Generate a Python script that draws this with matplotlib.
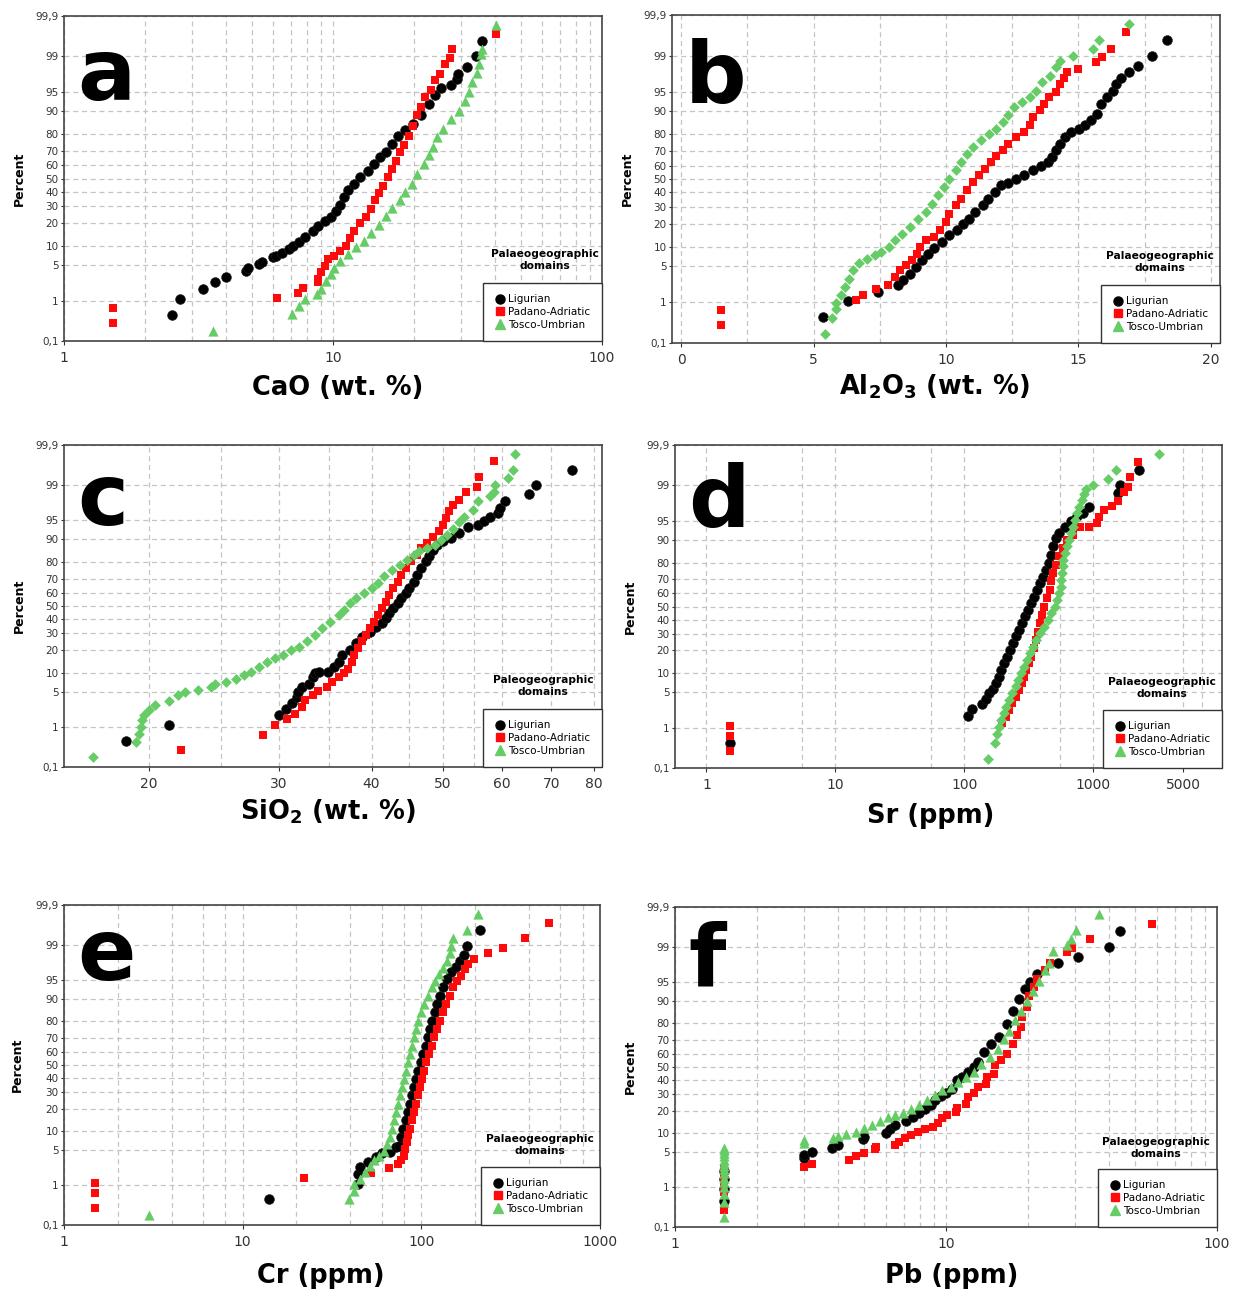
import matplotlib
matplotlib.use("Agg")
import matplotlib.pyplot as plt
import numpy as np
from statistics import NormalDist
from matplotlib.lines import Line2D
from matplotlib.ticker import FixedLocator, NullFormatter

# ---- data (value, cumulative percent) ----
# a: CaO
a_lig_x = [2.51, 2.69, 3.29, 3.64, 4.0, 4.73, 4.84, 5.33, 5.45, 6.0, 6.13, 6.46, 6.87, 7.1, 7.5, 7.9, 8.42, 8.8, 9.3, 9.8,
           10.3, 10.6, 11.0, 11.4, 12.0, 12.6, 13.5, 14.2, 14.9, 15.7, 16.5, 17.4, 18.6, 19.9, 21.3, 22.8, 24.0, 25.2,
           27.4, 28.9, 29.2, 31.5, 34.1, 35.8]
a_lig_p = [0.47, 1.1, 1.75, 2.4, 3.1, 3.9, 4.5, 5.2, 5.7, 6.7, 7.1, 7.8, 9.0, 10, 11.2, 13.5, 16, 18.4, 21, 23.3,
           27, 31, 36, 41, 46, 51, 56, 61, 66, 69, 74.5, 79, 82, 85, 88.5, 92.2, 94.3, 95.7,
           96.3, 97.1, 97.7, 98.3, 99.0, 99.55]
a_pad_x = [1.52, 1.52, 6.17, 7.4, 7.75, 8.77, 8.8, 9.0, 9.3, 9.6, 10.1, 10.6, 11.2, 11.6, 12.0, 12.6, 13.3, 13.9, 14.3,
           14.8, 15.4, 16.0, 16.5, 17.1, 17.7, 18.3, 19.2, 19.9, 20.6, 21.3, 22.0, 23.1, 24.0, 24.9, 26.0, 27.2, 27.7, 40.5]
a_pad_p = [0.68, 0.30, 1.14, 1.45, 1.9, 2.4, 2.85, 3.7, 4.8, 6.3, 7.1, 8.5, 10, 13, 16, 20, 23, 28, 34,
           39, 44.5, 51, 57, 63, 69, 74, 79, 84, 88.5, 91.3, 94, 95.3, 96.9, 97.7, 98.5, 98.9, 99.3, 99.7]
a_tos_x = [3.59, 7.06, 7.5, 7.9, 8.7, 9.05, 9.45, 9.8, 10.1, 10.6, 11.4, 12.2, 13.0, 13.9, 14.8, 15.7, 16.5, 17.7, 18.6,
           19.6, 20.6, 21.7, 22.8, 23.6, 24.4, 25.7, 27.4, 29.3, 30.9, 31.9, 33.0, 34.2, 35.0, 35.4, 35.8, 40.5]
a_tos_p = [0.19, 0.49, 0.77, 1.08, 1.38, 1.8, 2.6, 3.4, 4.5, 5.8, 7.5, 9.5, 11.8, 15.2, 19, 24, 29, 34, 39.6,
           46, 53.4, 61, 67, 72.3, 78.3, 82.7, 87.2, 90.2, 93, 95, 96.7, 97.8, 98.5, 99.1, 99.3, 99.82]

# b: Al2O3
b_lig_x = [5.36, 6.28, 7.42, 8.18, 8.36, 8.65, 8.87, 9.1, 9.32, 9.54, 9.84, 10.13, 10.43, 10.65, 10.87, 11.1, 11.4, 11.6,
           11.84, 12.06, 12.36, 12.66, 12.95, 13.3, 13.6, 13.84, 14.0, 14.14, 14.29, 14.5, 14.73, 15.03, 15.25, 15.47,
           15.7, 15.85, 16.07, 16.3, 16.44, 16.6, 16.93, 17.26, 17.8, 18.34]
b_lig_p = [0.47, 1.07, 1.66, 2.3, 2.9, 3.7, 4.9, 6.3, 8, 9.8, 11.7, 14.5, 17, 19.7, 22.7, 26.7, 31, 35.5,
           40.3, 45.2, 47.2, 50, 52.8, 56.5, 59.7, 62.5, 66, 70.5, 74.7, 78.5, 81.2, 82.8, 84.4, 86.5,
           89, 92.2, 93.8, 95.2, 96.4, 97.2, 97.8, 98.35, 99.0, 99.57]
b_pad_x = [1.5, 1.5, 6.6, 6.88, 7.34, 7.8, 8.06, 8.28, 8.5, 8.72, 8.92, 9.02, 9.24, 9.54, 9.76, 9.99, 10.13, 10.36,
           10.58, 10.8, 11.02, 11.25, 11.47, 11.7, 11.9, 12.14, 12.36, 12.66, 12.95, 13.17, 13.3, 13.55, 13.7, 13.9,
           14.14, 14.29, 14.44, 14.58, 14.99, 15.65, 15.88, 16.22, 16.81]
b_pad_p = [0.67, 0.29, 1.12, 1.45, 1.9, 2.3, 3.3, 4.3, 5.2, 6.3, 8, 10, 12.5, 13.8, 16.7, 21, 25.7, 31,
           35.5, 41.6, 47.6, 52.8, 57.7, 62.5, 66.6, 70.5, 74.7, 78.5, 81.2, 84.4, 87.9, 90.2, 92.2, 93.8,
           94.9, 96.4, 97.2, 97.8, 98.1, 98.6, 98.9, 99.3, 99.72]
b_tos_x = [5.42, 5.71, 5.83, 5.83, 6.05, 6.2, 6.32, 6.5, 6.72, 7.0, 7.31, 7.54, 7.83, 8.06, 8.35, 8.65, 8.95, 9.24,
           9.47, 9.69, 9.91, 10.13, 10.36, 10.58, 10.8, 11.02, 11.32, 11.62, 11.9, 12.14, 12.36, 12.58, 12.88, 13.17,
           13.4, 13.62, 13.92, 14.14, 14.32, 14.81, 15.55, 15.77, 16.91]
b_tos_p = [0.18, 0.43, 0.70, 0.98, 1.43, 2.1, 3.0, 4.3, 5.6, 6.7, 7.5, 8.5, 10, 12.5, 15.2, 18.4, 22.7, 26.7,
           32, 38, 44, 50, 56.5, 62.5, 68.4, 72.6, 76.7, 80.3, 82.8, 85.8, 88.5, 91.2, 92.6, 93.8,
           95.2, 96.6, 97.4, 98.25, 98.7, 98.96, 99.29, 99.56, 99.82]

# c: SiO2
c_lig_x = [18.6, 21.3, 30.0, 30.6, 31.2, 31.7, 31.8, 32.2, 32.9, 33.3, 33.5, 34.0, 34.9, 35.6, 36.1, 36.5, 37.4, 38.1,
           38.8, 39.8, 40.5, 41.3, 41.8, 42.3, 42.8, 43.4, 43.9, 44.5, 45.0, 45.6, 46.1, 46.7, 47.4, 47.8, 48.4, 49.0,
           49.9, 51.2, 52.5, 54.1, 55.7, 56.8, 57.9, 59.3, 59.7, 60.7, 65.3, 66.8, 74.6]
c_lig_p = [0.47, 1.1, 1.8, 2.45, 3.1, 4.1, 5.0, 6.0, 6.8, 8.7, 10, 10.3, 10.3, 12.2, 14.3, 17.4, 20, 23.6,
           27.8, 31.2, 34, 37.4, 40.8, 44.5, 48.4, 52, 56, 59.8, 63.4, 68, 72.6, 76.7, 80.5, 83, 86, 88,
           89.3, 90.5, 92, 93.5, 94.1, 94.8, 95.6, 96.3, 97, 97.8, 98.4, 99.0, 99.56]
c_pad_x = [22.1, 28.5, 29.6, 30.7, 31.5, 32.2, 32.5, 33.3, 33.9, 34.8, 35.4, 36.1, 36.7, 37.2, 37.6, 37.9, 38.4, 38.8,
           39.3, 39.8, 40.3, 40.8, 41.3, 41.8, 42.3, 42.8, 43.4, 43.9, 44.5, 45.3, 46.1, 46.7, 47.5, 48.4, 49.3, 49.9,
           50.4, 50.9, 51.5, 52.5, 53.7, 55.5, 55.9, 58.5]
c_pad_p = [0.29, 0.68, 1.1, 1.5, 1.9, 2.65, 3.5, 4.4, 5.1, 6.1, 7.3, 8.5, 9.8, 11.5, 14.3, 17.4, 20.8, 24.8,
           29, 33.4, 38, 43, 48.4, 53.4, 58.5, 63.4, 68, 72.6, 76.7, 80.5, 83.8, 86.7, 88.7, 90.8, 92.4, 94.1,
           95.5, 96.6, 97.4, 97.9, 98.6, 98.9, 99.33, 99.73]
c_tos_x = [16.8, 19.2, 19.4, 19.5, 19.6, 19.7, 20.0, 20.4, 21.3, 21.9, 22.4, 23.3, 24.3, 24.6, 25.4, 26.2, 26.9, 27.5,
           28.2, 28.9, 29.6, 30.4, 31.1, 31.9, 32.7, 33.5, 34.3, 35.2, 36.1, 36.7, 37.4, 38.1, 39.1, 40.0, 40.8, 41.6,
           42.6, 43.7, 44.7, 45.6, 46.4, 47.5, 48.7, 49.6, 50.6, 51.5, 52.5, 53.4, 54.8, 55.8, 57.9, 58.5, 58.8, 61.2,
           62.2, 62.5]
c_tos_p = [0.19, 0.44, 0.71, 1.0, 1.4, 1.8, 2.3, 2.9, 3.4, 4.4, 5.0, 5.4, 6.1, 6.8, 7.3, 8.2, 9.3, 10.4,
           12.2, 14.2, 15.8, 17.4, 20, 21.8, 24.8, 29, 33.4, 38, 43, 47, 52, 56, 59.8, 63.4, 67, 71.5,
           75.8, 78.5, 81.3, 83.8, 85.3, 86.7, 88.1, 89.8, 91.5, 93, 94.6, 95.7, 96.8, 97.8, 98.25, 98.6, 99.0, 99.3,
           99.56, 99.82]

# d: Sr
d_lig_x = [1.52, 107.7, 114.7, 136.7, 146.6, 155, 166, 176, 185, 194, 205, 215, 228, 241, 253, 268, 281, 297, 312,
           330, 347, 367, 385, 408, 431, 453, 475, 492, 517, 547, 608, 675, 750, 833, 925, 1563, 1620, 2270]
d_lig_p = [0.46, 1.8, 2.45, 3.1, 3.9, 4.8, 5.8, 7.2, 9, 11.3, 13.8, 16.9, 20.3, 24.2, 28.3, 32.7, 37.5, 42.5, 47.5,
           52.5, 57.5, 62.5, 67.3, 71.7, 75.8, 79.7, 83.9, 87.5, 90.5, 92, 93.7, 95, 95.8, 96.3, 97.1, 98.5, 99.0, 99.56]
d_pad_x = [1.52, 1.52, 1.52, 198, 212, 223, 236, 253, 268, 281, 291, 302, 317, 330, 347, 359, 372, 385, 399, 413,
           437, 459, 475, 492, 517, 547, 587, 629, 699, 788, 925, 1064, 1117, 1224, 1408, 1563, 1739, 1864, 1930, 2221]
d_pad_p = [1.13, 0.67, 0.29, 1.26, 1.75, 2.4, 3.2, 4.2, 5.5, 7.1, 9, 11.3, 13.8, 16.9, 21.2, 26, 31.6, 37.5, 43.6, 50,
           56.3, 62.5, 68.4, 73.8, 78.8, 83.1, 86.8, 90, 91.5, 93.6, 93.7, 94.4, 95.6, 96.8, 97.3, 97.8, 98.55, 98.9,
           99.33, 99.72]
d_tos_x = [153, 172, 178, 185, 194, 205, 212, 223, 236, 250, 262, 276, 291, 308, 324, 340, 359, 385, 413, 443, 475,
           503, 528, 547, 559, 567, 575, 579, 587, 608, 629, 652, 675, 699, 724, 750, 777, 822, 851, 875, 1006, 1313,
           1511, 3266]
d_tos_p = [0.18, 0.44, 0.73, 1.07, 1.5, 2.05, 2.75, 3.7, 4.8, 6.3, 7.9, 10, 12.5, 15.3, 18.5, 22, 26, 30.5, 35, 40, 45,
           50, 55, 60, 64.8, 69.5, 73.8, 77.9, 81.5, 84.6, 87.5, 90, 92, 93.7, 95.2, 96.3, 97.1, 97.9, 98.4, 98.8, 99.0,
           99.28, 99.56, 99.82]

# e: Cr
e_lig_x = [14.0, 44.0, 44.2, 45.3, 50.5, 56, 60.4, 66.9, 72.2, 75.2, 76.7, 79.1, 82, 84.1, 86.3, 88.5, 90.8, 93.1, 96,
           99, 102, 106, 108.5, 112.4, 115, 119, 123, 128, 133, 139, 147, 157, 165, 174, 179, 214]
e_lig_p = [0.47, 1.05, 1.8, 2.4, 3.0, 3.75, 4.45, 4.6, 5.6, 6.0, 8.2, 10.9, 14.2, 18.1, 22.7, 27.8, 33.4, 39.4, 45.6,
           52, 58.3, 64.5, 70.3, 75.6, 80.3, 84.5, 88, 91, 93.3, 95.1, 96.3, 97.1, 97.8, 98.3, 98.9, 99.55]
e_pad_x = [1.5, 1.5, 1.5, 22.0, 52.4, 65.9, 73.6, 76.7, 80, 81.2, 82.8, 84.1, 86.3, 88.5, 90.8, 93.1, 95.5, 98, 100.5,
           103, 106, 110, 114, 118, 123, 128, 133, 138, 144, 151, 159, 167, 176, 182, 198, 237, 288, 382, 518]
e_pad_p = [1.13, 0.68, 0.29, 1.47, 1.88, 2.35, 2.75, 3.3, 4.0, 5.3, 6.8, 8.7, 10.9, 14.2, 18.1, 22.7, 27.8, 33.4, 39.4,
           45.6, 52, 58.3, 64.5, 70.3, 75.6, 80.3, 84.5, 88, 91, 93.3, 94.8, 95.7, 96.8, 97.5, 98.0, 98.5, 98.8, 99.3,
           99.7]
e_tos_x = [2.99, 39.2, 41.8, 42.2, 45.3, 48.5, 51.8, 54.5, 58.2, 62, 64.5, 66.9, 68.6, 70.3, 72.2, 74, 76, 78, 80, 82,
           84.1, 86.3, 88.5, 90.8, 93.1, 95.5, 99.5, 104, 108.5, 114, 120, 126, 133, 139, 144, 147, 151, 179, 207]
e_tos_p = [0.19, 0.47, 0.75, 1.05, 1.4, 1.9, 2.6, 3.3, 4.0, 4.9, 6.4, 8.2, 10.9, 14.2, 18.1, 22.7, 27.8, 33.4, 39.4,
           45.6, 52, 58.3, 64.5, 70.3, 75.6, 80.3, 84.5, 88, 91, 93.3, 94.8, 96, 97, 97.8, 98.5, 98.9, 99.28, 99.55,
           99.82]

# f: Pb
f_lig_x = [1.51, 1.51, 1.51, 1.51, 2.98, 2.98, 3.2, 3.78, 3.98, 4.93, 5.0, 6.0, 6.2, 6.5, 7.14, 7.56, 7.94, 8.35, 8.8,
           9.08, 9.55, 10.0, 10.5, 11.0, 11.5, 12.05, 12.7, 13.1, 13.8, 14.7, 15.7, 16.8, 17.7, 18.6, 19.5, 20.5, 21.6,
           25.8, 30.6, 40.0, 43.8]
f_lig_p = [0.47, 0.9, 1.5, 2.2, 3.9, 4.5, 5.0, 5.8, 6.6, 8.1, 8.7, 10, 11.4, 13.1, 15, 16.8, 18.8, 20.6, 23,
           26, 28.6, 30.8, 33.2, 39.9, 42.4, 46.2, 50, 53.8, 61.4, 67.3, 72.2, 79.7, 86.2, 90.5, 93.4, 94.9, 96.4,
           97.8, 98.3, 99.0, 99.57]
f_pad_x = [1.51, 1.51, 1.51, 1.51, 1.51, 3.0, 3.2, 4.4, 4.66, 4.98, 5.47, 5.5, 6.5, 6.73, 7.07, 7.43, 7.89, 8.35, 8.93,
           9.33, 9.7, 10.1, 10.9, 11.0, 11.9, 12.05, 12.7, 13.1, 14.0, 14.2, 15.0, 15.2, 16.0, 16.8, 17.7, 18.3, 18.9,
           19.0, 19.9, 20.2, 21.2, 21.6, 23.1, 24.1, 27.9, 29.2, 33.9, 57.7]
f_pad_p = [0.29, 0.8, 1.2, 1.7, 2.5, 2.7, 3.1, 3.6, 4.2, 4.8, 5.6, 6.2, 6.6, 7.5, 8.4, 9.5, 10.6, 11.4, 12.5,
           14, 16.1, 17.6, 19.4, 21.2, 24, 28, 30.5, 35, 37.4, 42.4, 45, 51.3, 55, 60, 67.3, 72.9, 77.9,
           83.2, 87.5, 91.6, 93.8, 95.5, 96.9, 97.8, 98.65, 98.95, 99.32, 99.72]
f_tos_x = [1.51, 1.51, 1.51, 1.51, 1.51, 1.51, 1.51, 1.51, 1.51, 1.51, 1.51, 1.51, 1.51, 1.51, 1.51, 3.0, 3.0, 3.82,
           4.0, 4.29, 4.66, 4.98, 5.33, 5.69, 6.09, 6.5, 6.95, 7.43, 7.94, 8.49, 9.08, 9.7, 10.4, 11.1, 11.9, 12.7,
           13.5, 14.5, 15.5, 16.3, 17.1, 18.0, 18.9, 19.9, 20.9, 22.0, 23.1, 23.9, 24.9, 28.0, 28.9, 30.1, 36.8]
f_tos_p = [0.19, 0.45, 0.7, 1.0, 1.3, 1.6, 2.0, 2.4, 2.8, 3.2, 3.7, 4.2, 4.8, 5.4, 6.0, 7.1, 8.0, 8.4,
           9.1, 9.8, 10.6, 11.8, 13.1, 15, 16.5, 17.6, 18.8, 20.6, 23, 26, 29.3, 32.7, 35, 38.6, 42.4, 46.2,
           52.6, 57.5, 63.8, 70.7, 75.9, 81.6, 86.2, 90, 92.9, 95.2, 96.9, 97.8, 98.75, 99.1, 99.32, 99.59, 99.84]

groups = ["Ligurian", "Padano-Adriatic", "Tosco-Umbrian"]
pct_ticks = [0.1, 1, 5, 10, 20, 30, 40, 50, 60, 70, 80, 90, 95, 99, 99.9]
pct_labels = ["0,1", "1", "5", "10", "20", "30", "40", "50", "60", "70", "80", "90", "95", "99", "99,9"]

# ---- probability (normal quantile) scale ----
nd = NormalDist()
_inv_cdf = np.vectorize(nd.inv_cdf, otypes=[float])
_cdf = np.vectorize(nd.cdf, otypes=[float])


def prob_fwd(p):
    p = np.clip(np.asarray(p, dtype=float), 1e-6, 100 - 1e-6)
    return _inv_cdf(p / 100.0)


def prob_inv(z):
    return _cdf(np.asarray(z, dtype=float)) * 100.0


W, H = 1236, 1289
fig = plt.figure(figsize=(W / 100, H / 100), dpi=100)

BLACK = "#000000"
RED = "#ff0a0a"
GREEN = "#66cc66"
GRID = "#c4c4c4"


def add_axes(l, t, r, b):
    return fig.add_axes([l / W, 1 - b / H, (r - l) / W, (b - t) / H])


panels = [
    dict(box=(64, 16, 602, 341), letter="a", let_y=0.742, xlab="CaO (wt. %)", xlab_xy=(338, 395), ylab_x=19,
         data=(a_lig_x, a_lig_p, a_pad_x, a_pad_p, a_tos_x, a_tos_p), tos_m="^", log=True, xlim=(1, 100),
         major=[1, 10, 100], minor=[2, 3, 4, 5, 6, 7, 8, 9, 20, 30, 40, 50, 60, 70, 80, 90],
         title="Palaeogeographic\ndomains", title_xy=(545, 260)),
    dict(box=(672, 15, 1220, 343), letter="b", let_y=0.732, xlab=r"Al$_\mathbf{2}$O$_\mathbf{3}$ (wt. %)",
         xlab_xy=(934, 395), ylab_x=627,
         data=(b_lig_x, b_lig_p, b_pad_x, b_pad_p, b_tos_x, b_tos_p), tos_m="D", log=False, xlim=(-0.35, 20.35),
         major=[0, 5, 10, 15, 20], minor=[2.5, 7.5, 12.5, 17.5],
         title="Palaeogeographic\ndomains", title_xy=(1160, 262)),
    dict(box=(64, 445, 602, 767), letter="c", let_y=0.75, xlab=r"SiO$_\mathbf{2}$ (wt. %)", xlab_xy=(328, 819),
         ylab_x=19,
         data=(c_lig_x, c_lig_p, c_pad_x, c_pad_p, c_tos_x, c_tos_p), tos_m="D", log=True, xlim=(15.35, 82),
         major=[20, 30, 40, 50, 60, 70, 80], minor=[25, 35, 45, 55],
         title="Paleogeographic\ndomains", title_xy=(543, 686)),
    dict(box=(675, 445, 1222, 768), letter="d", let_y=0.746, xlab="Sr (ppm)", xlab_xy=(931, 823), ylab_x=630,
         data=(d_lig_x, d_lig_p, d_pad_x, d_pad_p, d_tos_x, d_tos_p), tos_m="D", log=True, xlim=(0.57, 10000),
         major=[1, 10, 100, 1000, 5000], minor=[5.5, 55, 550, 7000],
         title="Palaeogeographic\ndomains", title_xy=(1162, 688)),
    dict(box=(64, 905, 600, 1225), letter="e", let_y=0.766, xlab="Cr (ppm)", xlab_xy=(321, 1283), ylab_x=17,
         data=(e_lig_x, e_lig_p, e_pad_x, e_pad_p, e_tos_x, e_tos_p), tos_m="^", log=True, xlim=(1, 1000),
         major=[1, 10, 100, 1000], minor=[2, 4, 6, 8, 20, 40, 60, 80, 200, 400, 600, 800],
         title="Palaeogeographic\ndomains", title_xy=(540, 1145)),
    dict(box=(675, 907, 1217, 1227), letter="f", let_y=0.756, xlab="Pb (ppm)", xlab_xy=(952, 1283), ylab_x=630,
         data=(f_lig_x, f_lig_p, f_pad_x, f_pad_p, f_tos_x, f_tos_p), tos_m="^", log=True, xlim=(1, 100),
         major=[1, 10, 100], minor=[2, 3, 4, 5, 6, 7, 8, 9, 20, 30, 40, 50, 60, 70, 80, 90],
         title="Palaeogeographic\ndomains", title_xy=(1156, 1148)),
]

for pn in panels:
    l, t, r, b = pn["box"]
    ax = add_axes(l, t, r, b)
    ax.set_yscale("function", functions=(prob_fwd, prob_inv))
    if pn["log"]:
        ax.set_xscale("log")
    ax.set_xlim(*pn["xlim"])
    ax.set_ylim(0.1, 99.9)

    lx, lp, px, pp, tx, tp = pn["data"]
    ax.scatter(lx, lp, s=50, marker="o", color=BLACK, edgecolors="#222222", linewidths=0.4, zorder=3)
    ax.scatter(px, pp, s=38, marker="s", color=RED, linewidths=0, zorder=3)
    if pn["tos_m"] == "D":
        ax.scatter(tx, tp, s=30, marker="D", color=GREEN, linewidths=0, zorder=3)
    else:
        ax.scatter(tx, tp, s=54, marker="^", color=GREEN, linewidths=0, zorder=3)

    ax.set_yticks(pct_ticks)
    ax.set_yticklabels(pct_labels)
    ax.yaxis.set_minor_locator(FixedLocator([]))
    ax.set_xticks(pn["major"])
    ax.set_xticklabels([str(v) for v in pn["major"]])
    ax.xaxis.set_minor_locator(FixedLocator(pn["minor"]))
    ax.xaxis.set_minor_formatter(NullFormatter())

    ax.set_axisbelow(True)
    ax.grid(True, axis="x", which="both", color=GRID, linestyle=(0, (4, 3)), linewidth=0.9)
    ax.grid(True, axis="y", which="major", color=GRID, linestyle=(0, (4, 3)), linewidth=0.9)

    ax.tick_params(axis="y", labelsize=7.5, length=2, pad=2, colors="#333333")
    ax.tick_params(axis="x", which="major", labelsize=10, length=3, pad=4, colors="#333333")
    ax.tick_params(axis="x", which="minor", length=0)
    for sp in ax.spines.values():
        sp.set_color("#444444")
        sp.set_linewidth(1.2)

    ax.text(0.024, pn["let_y"], pn["letter"], transform=ax.transAxes, fontsize=62, fontweight="bold",
            ha="left", va="baseline")

    handles = [
        Line2D([], [], marker="o", ls="none", color=BLACK, markersize=6.5),
        Line2D([], [], marker="s", ls="none", color=RED, markersize=5.5),
        Line2D([], [], marker="^", ls="none", color=GREEN, markersize=6.5),
    ]
    leg = ax.legend(handles, groups, loc="lower right", bbox_to_anchor=(1, 0), borderaxespad=0,
                    frameon=True, fancybox=False, fontsize=7.5, handlelength=1.0, handletextpad=0.3,
                    borderpad=1.1, labelspacing=0.25)
    leg.get_frame().set_edgecolor("#333333")
    leg.get_frame().set_linewidth(1.0)
    leg.get_frame().set_alpha(1)

    tx_, ty_ = pn["title_xy"]
    fig.text(tx_ / W, 1 - ty_ / H, pn["title"], ha="center", va="center", fontsize=7.7, fontweight="bold",
             linespacing=1.15)

    xx, xy = pn["xlab_xy"]
    fig.text(xx / W, 1 - xy / H, pn["xlab"], ha="center", va="baseline", fontsize=18.5, fontweight="bold")
    fig.text(pn["ylab_x"] / W, 1 - (t + b) / 2 / H, "Percent", rotation=90, ha="center", va="center",
             fontsize=9, fontweight="bold")

fig.savefig("out.png", dpi=100, facecolor="white")
